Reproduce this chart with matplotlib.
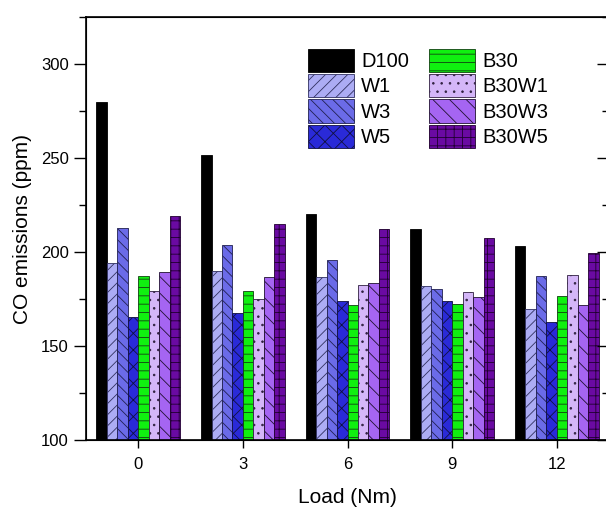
import numpy as np
import matplotlib
matplotlib.use('Agg')
import matplotlib.pyplot as plt
from matplotlib.ticker import MultipleLocator

plt.rcParams['font.family'] = ['Liberation Sans', 'DejaVu Sans']
plt.rcParams['hatch.linewidth'] = 0.6

# Данные
loads = ['0', '3', '6', '9', '12']
series = ['D100', 'W1', 'W3', 'W5', 'B30', 'B30W1', 'B30W3', 'B30W5']
d100 = [280, 251.5, 220, 212, 203]
w1 = [194, 190, 186.5, 182, 169.5]
w3 = [213, 203.5, 196, 180.5, 187]
w5 = [165.5, 167.5, 174, 174, 163]
b30 = [187.5, 179, 172, 172.5, 176.5]
b30w1 = [179.5, 175, 182.5, 178.5, 188]
b30w3 = [189.5, 186.5, 183.5, 176, 172]
b30w5 = [219, 215, 212, 207.5, 199.5]

values = [d100, w1, w3, w5, b30, b30w1, b30w3, b30w5]
colors = ['#000000', '#acacf4', '#6b6be8', '#2a2ad8', '#10f010',
          '#d4b6f8', '#a565f2', '#6a0aa2']
hatches = [None, '///', '\\\\\\', 'xx', '--', '..', '\\\\', '++']
edges = ['#000000', '#303060', '#202050', '#101040', '#104010',
         '#302040', '#201030', '#200030']

fig = plt.figure(figsize=(6.06, 5.12), dpi=100)
ax = fig.add_axes([0.1419, 0.1406, 0.8631, 0.8262])

x = np.arange(len(loads))
w = 0.1
for i, (name, vals) in enumerate(zip(series, values)):
    pos = x + (i - 3.5) * w
    ax.bar(pos, [v - 100 for v in vals], w, bottom=100, color=colors[i],
           edgecolor=edges[i], hatch=hatches[i], linewidth=0.6, label=name)

ax.set_xlim(-0.5, 4.5)
ax.set_ylim(100, 325)
ax.set_xticks(x)
ax.set_xticklabels(loads)
ax.yaxis.set_major_locator(MultipleLocator(50))
ax.yaxis.set_minor_locator(MultipleLocator(25))
ax.tick_params(axis='y', which='major', direction='out', length=9, width=1, labelsize=12)
ax.tick_params(axis='y', which='minor', direction='out', length=5, width=1)
ax.tick_params(axis='x', direction='out', length=6, width=1, labelsize=12, pad=6)
for s in ax.spines.values():
    s.set_linewidth(1.2)

# правая ось с засечками внутрь
ax2 = ax.twinx()
ax2.set_ylim(ax.get_ylim())
ax2.yaxis.set_major_locator(MultipleLocator(50))
ax2.yaxis.set_minor_locator(MultipleLocator(25))
ax2.tick_params(axis='y', which='major', direction='in', length=9, width=1, labelright=False)
ax2.tick_params(axis='y', which='minor', direction='in', length=5, width=1)

ax.set_xlabel('Load (Nm)', fontsize=15, labelpad=12)
ax.set_ylabel('CO emissions (ppm)', fontsize=15, labelpad=6)

ax.legend(ncol=2, loc='upper left', bbox_to_anchor=(0.424, 0.925), frameon=False,
          fontsize=14.5, handlelength=2.3, handleheight=1.4, labelspacing=0.1,
          columnspacing=1.0, handletextpad=0.35, borderpad=0.0, borderaxespad=0.0)

plt.savefig('out.png', dpi=100)
plt.close()
